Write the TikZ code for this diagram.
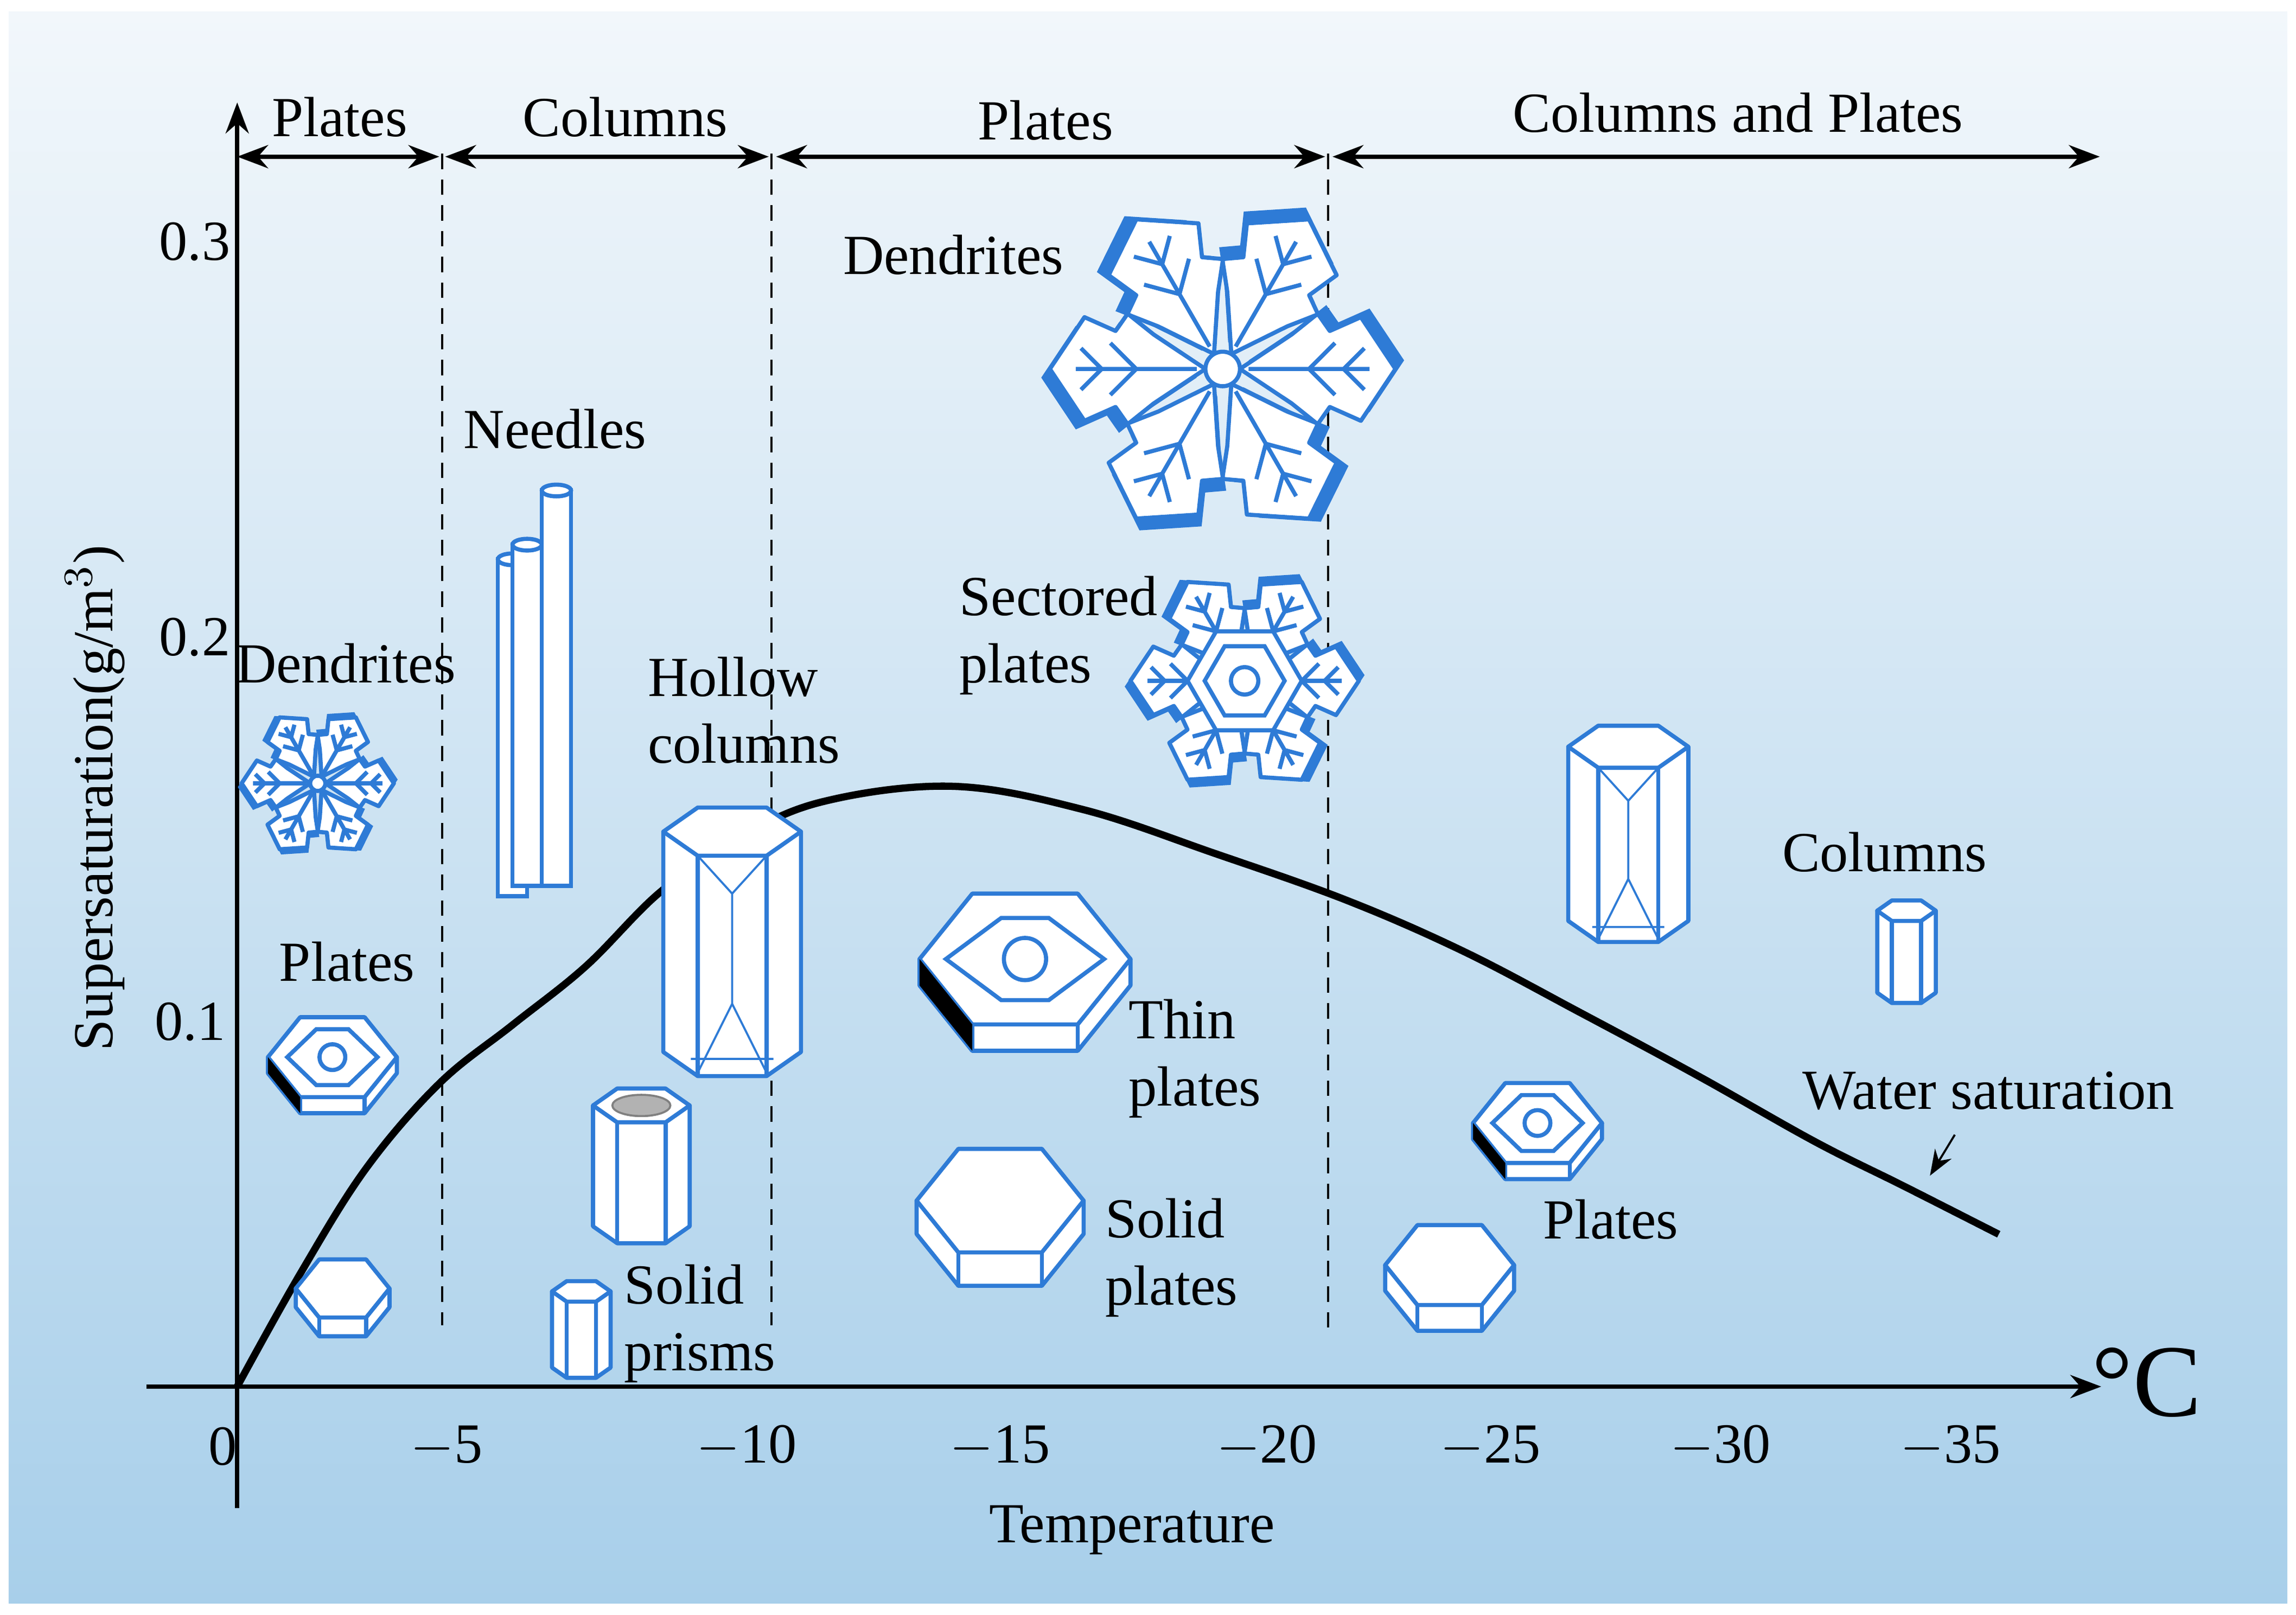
\documentclass[tikz,border=0pt]{standalone}
\usepackage{fontspec}
\setmainfont{Liberation Serif}
\usetikzlibrary{arrows.meta}
\definecolor{cb}{HTML}{2E7BD6}
\definecolor{bgtop}{HTML}{F2F7FB}
\definecolor{bgbot}{HTML}{A8CFEA}
\newcommand\myhexplate[1]{%
  \draw[cb,thick,fill=white,line join=round] (-1,0)--(-1,#1)--(-0.5,0.62+#1)--(0.5,0.62+#1)--(1,#1)--(1,0)--cycle;
  \draw[cb,thick] (-0.5,0.62)--(-0.5,0.62+#1) (0.5,0.62)--(0.5,0.62+#1);
  \draw[cb,thick,fill=white,line join=round] (1,0)--(0.5,0.62)--(-0.5,0.62)--(-1,0)--(-0.5,-0.62)--(0.5,-0.62)--cycle;}
\newcommand\myhexcol[1]{%
  \draw[cb,thick,fill=white,line join=round] (-1,0)--(-1,#1)--(-0.5,0.35+#1)--(0.5,0.35+#1)--(1,#1)--(1,0)--cycle;
  \draw[cb,thick] (-0.5,0.35)--(-0.5,0.35+#1) (0.5,0.35)--(0.5,0.35+#1);
  \draw[cb,thick,fill=white,line join=round] (1,0)--(0.5,0.35)--(-0.5,0.35)--(-1,0)--(-0.5,-0.35)--(0.5,-0.35)--cycle;}
\newcommand\myflake{%
  \foreach \a in {30,90,...,330}{
    \fill[cb,rotate=\a,shift={(0.05,0.05)}] (0,0.1)--(-0.2,0.4)--(-0.32,0.55)--(-0.22,0.62)--(-0.3,0.8)--(0,1)--(0.3,0.8)--(0.22,0.62)--(0.32,0.55)--(0.2,0.4)--cycle;}
  \foreach \a in {30,90,...,330}{
    \draw[cb,thick,fill=white,rotate=\a,line join=round] (0,0.1)--(-0.2,0.4)--(-0.32,0.55)--(-0.22,0.62)--(-0.3,0.8)--(0,1)--(0.3,0.8)--(0.22,0.62)--(0.32,0.55)--(0.2,0.4)--cycle;
    \draw[cb,thick,rotate=\a] (0,0.15)--(0,0.85) (0,0.5)--(-0.15,0.65) (0,0.5)--(0.15,0.65) (0,0.7)--(-0.12,0.82) (0,0.7)--(0.12,0.82);}
  \draw[cb,thick,fill=white] (0,0) circle (0.1);}
\begin{document}
\begin{tikzpicture}[x=0.01cm,y=-0.01cm,
  lab/.style={font=\fontsize{11}{13}\selectfont,inner sep=1pt},
  lab2/.style={font=\fontsize{11}{13}\selectfont,inner sep=1pt,align=left},
  dsh/.style={densely dashed,thin},
  ax/.style={thick,-{Stealth[length=6pt]}},
  dbl/.style={thick,{Stealth[length=6pt]}-{Stealth[length=6pt]}}]
\useasboundingbox (0,0) rectangle (1568,1103);
\fill[white] (0,0) rectangle (1568,1103);
\shade[top color=bgtop,bottom color=bgbot] (6,8) rectangle (1562,1095);
% axes
\coordinate (ya) at (162,1030); \coordinate (yb) at (162,70);
\coordinate (xa) at (100,947); \coordinate (xb) at (1435,947);
\draw[ax] (ya)--(yb);
\draw[ax] (xa)--(xb);
\node[font=\fontsize{20}{22}\selectfont] (degc) at (1466,944) {°C};
\foreach \x/\t/\n in {152/0/t0,305/$-$5/t5,510/$-$10/t10,683/$-$15/t15,865/$-$20/t20,1018/$-$25/t25,1175/$-$30/t30,1332/$-$35/t35}
  \node[lab] (\n) at (\x,988) {\t};
\node[lab] (temp) at (773,1045) {Temperature};
\node[lab] (y3) at (133,165) {0.3};
\node[lab] (y2) at (133,435) {0.2};
\node[lab] (y1) at (130,698) {0.1};
\node[lab,rotate=90] (ytitle) at (65,545) {Supersaturation(g/m$^3$)};
% dashed
\foreach \x/\e/\n in {302/905/d1,527/905/d2,907/912/d3}{
  \coordinate (\n a) at (\x,105); \coordinate (\n b) at (\x,\e);
  \draw[dsh] (\n a)--(\n b);}
% top arrows
\coordinate (p0) at (162,107); \coordinate (p1) at (300,107);
\coordinate (p2) at (304,107); \coordinate (p3) at (525,107);
\coordinate (p4) at (530,107); \coordinate (p5) at (905,107);
\coordinate (p6) at (910,107); \coordinate (p7) at (1434,107);
\draw[dbl] (p0)--(p1); \draw[dbl] (p2)--(p3); \draw[dbl] (p4)--(p5); \draw[dbl] (p6)--(p7);
\node[lab] (h1) at (232,80) {Plates};
\node[lab] (h2) at (427,80) {Columns};
\node[lab] (h3) at (714,82) {Plates};
\node[lab] (h4) at (1187,77) {Columns and Plates};
% curve
\draw[line width=1.4pt] plot[smooth,tension=0.6] coordinates {(162,947) (205,870) (250,798) (300,740) (350,700) (400,660) (450,610) (500,575) (560,548) (650,537) (740,553) (830,583) (920,615) (1000,650) (1080,692) (1160,735) (1240,780) (1300,810) (1365,843)};
% labels
\node[lab] (l1) at (651,174) {Dendrites};
\node[lab] (l2) at (379,293) {Needles};
\node[lab] (l3) at (236,453) {Dendrites};
\node[lab2] (l4) at (508,485) {Hollow\\columns};
\node[lab2] (l5) at (723,434) {Sectored\\plates};
\node[lab] (l6) at (237,657) {Plates};
\node[lab] (l7) at (1287,582) {Columns};
\node[lab2] (l8) at (816,723) {Thin\\plates};
\node[lab] (l9) at (1358,745) {Water saturation};
\coordinate (wa) at (1335,775); \coordinate (wb) at (1318,803);
\draw[-{Stealth[length=5pt]}] (wa)--(wb);
\node[lab] (l10) at (1100,833) {Plates};
\node[lab2] (l11) at (800,859) {Solid\\plates};
\node[lab2] (l12) at (478,904) {Solid\\prisms};
% snowflakes
\begin{scope}[shift={(835,252)},scale=118] \myflake \end{scope}
\begin{scope}[shift={(217,535)},scale=52] \myflake \end{scope}
\begin{scope}[shift={(850,465)},scale=78]
  \myflake
  \draw[cb,thick,fill=white] (0:0.5)--(60:0.5)--(120:0.5)--(180:0.5)--(240:0.5)--(300:0.5)--cycle;
  \draw[cb,thick] (0:0.35)--(60:0.35)--(120:0.35)--(180:0.35)--(240:0.35)--(300:0.35)--cycle;
  \draw[cb,thick] (0,0) circle (0.12);
\end{scope}
% needles
\foreach \xa/\ya/\yb in {340/382/612,350/372/605,370/335/605}{
  \draw[cb,thick,fill=white] (\xa,\ya) rectangle (\xa+20,\yb);
  \draw[cb,thick,fill=white] (\xa+10,\ya) ellipse (10 and 4);}
% columns
\begin{scope}[shift={(500,568)},x=0.47cm,y=-0.47cm]
  \myhexcol{3.2}
  \draw[cb] (-0.5,0.35)--(0,0.9)--(0.5,0.35) (0,0.9)--(0,2.5) (-0.5,3.5)--(0,2.5)--(0.5,3.5) (-0.6,3.3)--(0.6,3.3);
\end{scope}
\begin{scope}[shift={(1112,510)},x=0.41cm,y=-0.41cm]
  \myhexcol{2.9}
  \draw[cb] (-0.5,0.35)--(0,0.9)--(0.5,0.35) (0,0.9)--(0,2.2) (-0.5,3.2)--(0,2.2)--(0.5,3.2) (-0.6,3.0)--(0.6,3.0);
\end{scope}
\begin{scope}[shift={(1302,622)},x=0.2cm,y=-0.2cm] \myhexcol{2.8} \end{scope}
\begin{scope}[shift={(438,755)},x=0.33cm,y=-0.33cm]
  \myhexcol{2.5}
  \fill[gray!60,draw=gray] (0,0) ellipse (0.6 and 0.22);
\end{scope}
\begin{scope}[shift={(397,882)},x=0.2cm,y=-0.2cm] \myhexcol{2.6} \end{scope}
% plates
\begin{scope}[shift={(700,655)},x=0.72cm,y=-0.72cm]
  \myhexplate{0.25}
  \fill[black] (-1,0)--(-1,0.25)--(-0.5,0.87)--(-0.5,0.62)--cycle;
  \draw[cb,thick] (0:0.75)--(60:0.45)--(120:0.45)--(180:0.75)--(240:0.45)--(300:0.45)--cycle;
  \draw[cb,thick] (0,0) circle (0.2);
\end{scope}
\foreach \px/\py/\r in {227/722/0.44,1050/767/0.44}{
\begin{scope}[shift={(\px,\py)},x=\r cm,y=-\r cm]
  \myhexplate{0.25}
  \fill[black] (-1,0)--(-1,0.25)--(-0.5,0.87)--(-0.5,0.62)--cycle;
  \draw[cb,thick] (0:0.7)--(60:0.5)--(120:0.5)--(180:0.7)--(240:0.5)--(300:0.5)--cycle;
  \draw[cb,thick] (0,0) circle (0.2);
\end{scope}}
\begin{scope}[shift={(683,820)},x=0.57cm,y=-0.57cm] \myhexplate{0.4} \end{scope}
\begin{scope}[shift={(990,864)},x=0.44cm,y=-0.44cm] \myhexplate{0.4} \end{scope}
\begin{scope}[shift={(234,880)},x=0.32cm,y=-0.32cm] \myhexplate{0.4} \end{scope}
\end{tikzpicture}
\end{document}
